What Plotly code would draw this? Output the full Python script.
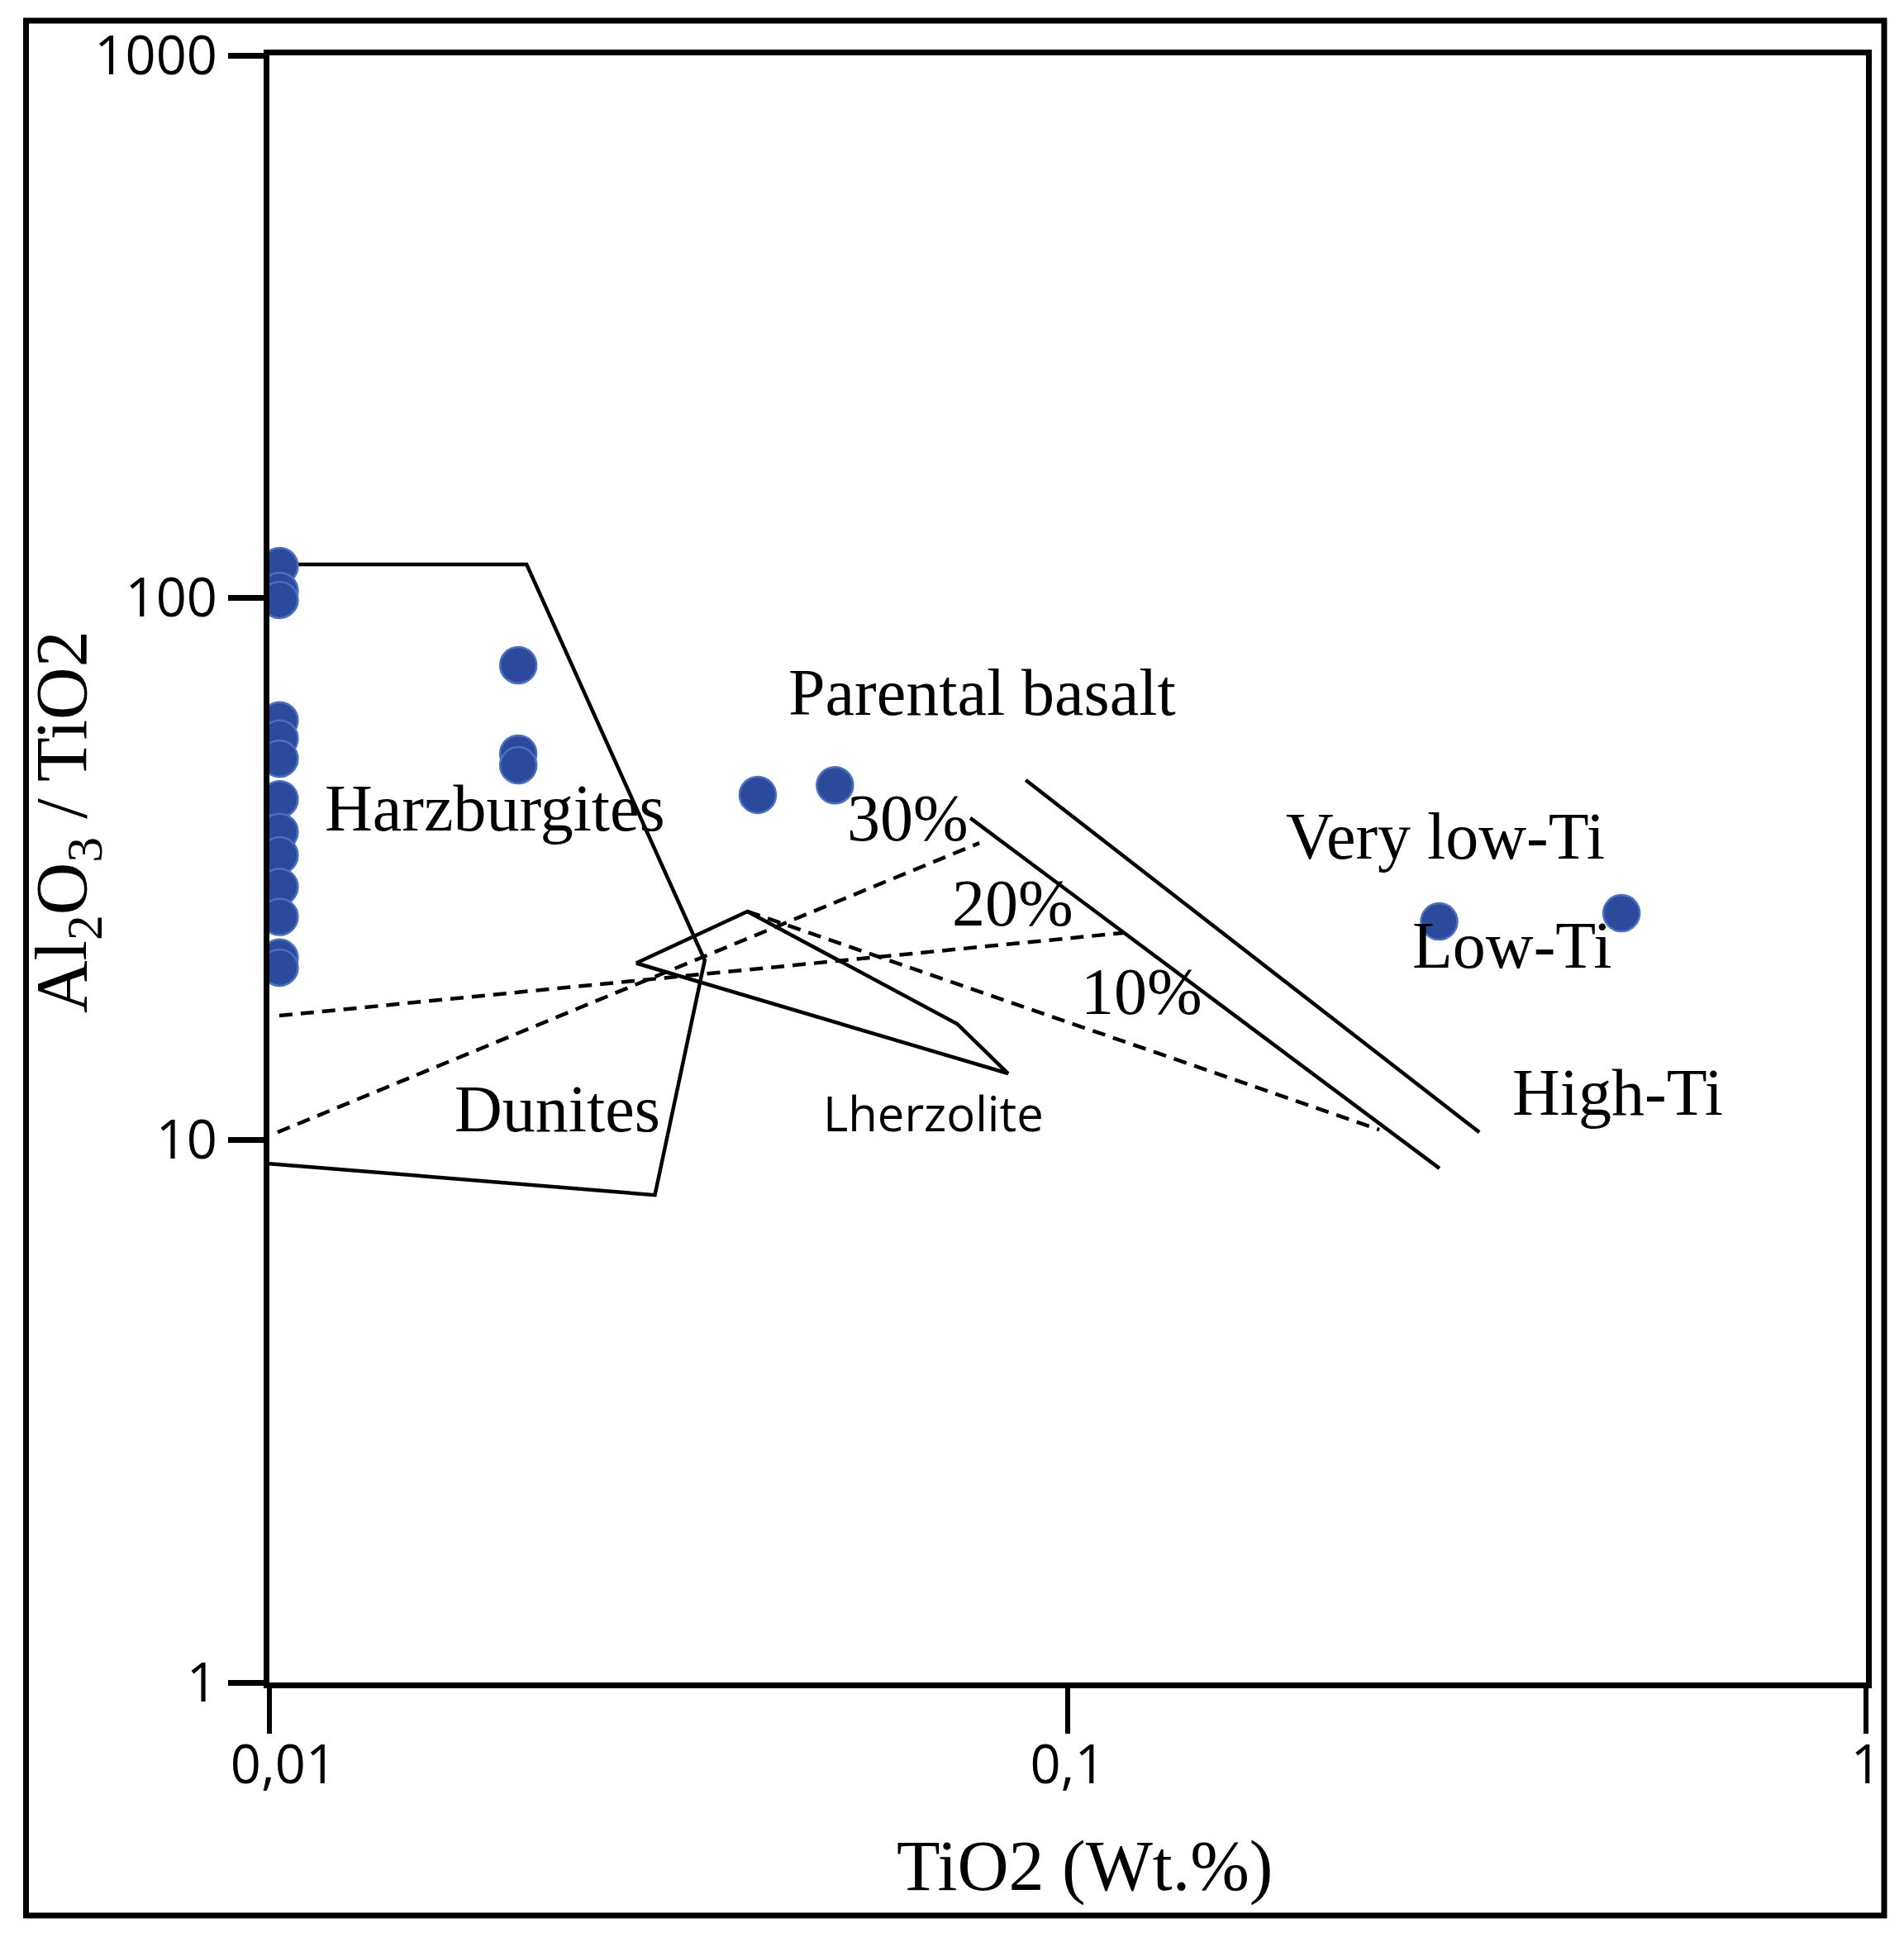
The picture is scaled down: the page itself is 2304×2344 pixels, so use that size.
import plotly.graph_objects as go

# ---------------- data ----------------
# samples plotted on the 0.01 TiO2 line
axis_tio2 = [0.0103] * 13
axis_ratio = [114.4, 103.0, 99.1, 59.4, 55.0, 50.5, 42.5, 37.0, 33.5, 29.3, 25.8, 21.7, 20.8]

# other samples
other_tio2 = [0.0205, 0.0205, 0.0205, 0.0409, 0.0511, 0.292, 0.494]
other_ratio = [75.1, 51.6, 49.1, 43.3, 45.1, 25.3, 26.2]

# Harzburgite + Dunite field (solid polygon)
harz_x = [0.01, 0.0210, 0.0351, 0.0304, 0.01]
harz_y = [115.2, 115.2, 21.46, 7.92, 9.05]

# Lherzolite field
lherz_x = [0.0288, 0.0397, 0.0727, 0.0842, 0.0288]
lherz_y = [21.2, 26.4, 16.38, 13.27, 21.2]

# melting trends (dashed)
d1_x = [0.01029, 0.1173]
d1_y = [16.96, 24.1]
d2_x = [0.01024, 0.0775]
d2_y = [10.34, 35.3]
d3_x = [0.0397, 0.2457]
d3_y = [26.4, 10.45]

# boundary lines (solid)
s1_x = [0.0755, 0.2922]
s1_y = [39.25, 8.87]
s2_x = [0.0886, 0.3278]
s2_y = [46.1, 10.34]

x_tickvals = [0.01, 0.1, 1]
x_ticktext = ["\u00a0\u00a00,01", "0,1", "1"]
y_tickvals = [1, 10, 100, 1000]
y_ticktext = ["1", "10", "100", "1000"]

SERIF = "Liberation Serif, Times New Roman, serif"
SANS = "Open Sans, Noto Sans, sans-serif"

fig = go.Figure()

line_style = dict(color="black", width=4.5)
dash_style = dict(color="black", width=4.5, dash="16px,10px")

fig.add_trace(go.Scatter(x=harz_x, y=harz_y, mode="lines", line=line_style, hoverinfo="skip"))
fig.add_trace(go.Scatter(x=lherz_x, y=lherz_y, mode="lines", line=line_style, hoverinfo="skip"))
fig.add_trace(go.Scatter(x=s1_x, y=s1_y, mode="lines", line=line_style, hoverinfo="skip"))
fig.add_trace(go.Scatter(x=s2_x, y=s2_y, mode="lines", line=line_style, hoverinfo="skip"))
for dx, dy in [(d1_x, d1_y), (d2_x, d2_y), (d3_x, d3_y)]:
    fig.add_trace(go.Scatter(x=dx, y=dy, mode="lines", line=dash_style, hoverinfo="skip"))

marker_style = dict(size=44, color="#2C4A9C", line=dict(color="#4A6FC3", width=2.5))
fig.add_trace(go.Scatter(x=axis_tio2, y=axis_ratio, mode="markers", marker=marker_style))
fig.add_trace(go.Scatter(x=other_tio2, y=other_ratio, mode="markers", marker=marker_style))

# field labels (paper coordinates)
labels = [
    ("Harzburgites", 0.1413, 0.5375, SERIF, 80),
    ("Parental basalt", 0.4462, 0.6085, SERIF, 80),
    ("30%", 0.3996, 0.5312, SERIF, 80),
    ("20%", 0.4658, 0.4790, SERIF, 80),
    ("10%", 0.5461, 0.4245, SERIF, 80),
    ("Very low-Ti", 0.7365, 0.5200, SERIF, 80),
    ("Low-Ti", 0.7785, 0.4530, SERIF, 80),
    ("High-Ti", 0.8447, 0.3626, SERIF, 80),
    ("Dunites", 0.1806, 0.3524, SERIF, 80),
    ("Lherzolite", 0.4161, 0.3504, SANS, 58),
]
for txt, px, py, fam, sz in labels:
    fig.add_annotation(text=txt, x=px, y=py, xref="paper", yref="paper",
                       xanchor="center", yanchor="middle", showarrow=False,
                       font=dict(family=fam, size=sz, color="black"))

# axis titles
fig.add_annotation(text="TiO2 (Wt.%)", x=0.5109, y=-0.1127, xref="paper", yref="paper",
                   xanchor="center", yanchor="middle", showarrow=False,
                   font=dict(family=SERIF, size=86, color="black"))
fig.add_annotation(text="Al<sub>2</sub>O<sub>3</sub> / TiO2", x=-0.1268, y=0.5287,
                   xref="paper", yref="paper", textangle=-90,
                   xanchor="center", yanchor="middle", showarrow=False,
                   font=dict(family=SERIF, size=88, color="black"))

# outer frame
fig.add_shape(type="rect", xref="paper", yref="paper",
              x0=-0.15243, x1=1.01139, y0=-0.14322, y1=1.02133,
              line=dict(color="black", width=7), fillcolor="rgba(0,0,0,0)", layer="above")

fig.update_layout(
    width=2296, height=2336,
    margin=dict(l=318, r=46, t=59, b=308),
    paper_bgcolor="white", plot_bgcolor="white",
    showlegend=False,
    xaxis=dict(type="log", range=[-2, 0], tickvals=x_tickvals, ticktext=x_ticktext,
               ticks="outside", ticklen=55, tickwidth=6, tickcolor="black",
               showline=True, linewidth=7, linecolor="black", mirror=True,
               showgrid=False, zeroline=False, ticklabelstandoff=-18,
               tickfont=dict(family=SANS, size=65, color="black")),
    yaxis=dict(type="log", range=[0, 3], tickvals=y_tickvals, ticktext=y_ticktext,
               ticks="outside", ticklen=43, tickwidth=7, tickcolor="black",
               showline=True, linewidth=7, linecolor="black", mirror=True,
               showgrid=False, zeroline=False,
               tickfont=dict(family=SANS, size=65, color="black")),
)

fig.write_html("out.html")
